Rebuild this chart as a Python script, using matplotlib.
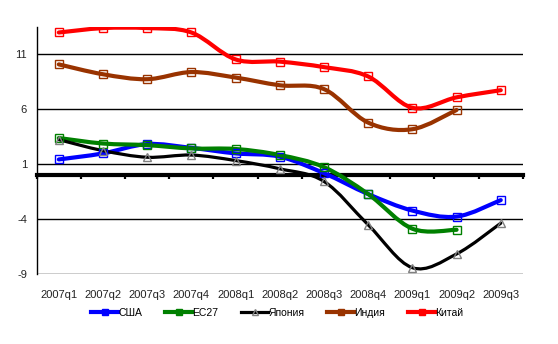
import numpy as np
import matplotlib
matplotlib.use("Agg")
import matplotlib.pyplot as plt
from matplotlib.path import Path
from matplotlib.patches import PathPatch
from matplotlib.lines import Line2D

categories = ["2007q1", "2007q2", "2007q3", "2007q4", "2008q1", "2008q2",
              "2008q3", "2008q4", "2009q1", "2009q2", "2009q3"]
usa = [1.45, 2.0, 2.85, 2.5, 2.0, 1.7, 0.2, -1.7, -3.2, -3.75, -2.25]
eu27 = [3.4, 2.9, 2.75, 2.45, 2.4, 1.85, 0.75, -1.7, -4.85, -4.95, None]
japan = [3.25, 2.25, 1.65, 1.85, 1.35, 0.6, -0.55, -4.5, -8.4, -7.15, -4.35]
india = [10.1, 9.2, 8.75, 9.4, 8.9, 8.2, 7.85, 4.8, 4.2, 5.95, None]
china = [13.0, 13.4, 13.4, 13.0, 10.55, 10.35, 9.85, 9.0, 6.15, 7.1, 7.75]
names = ["США", "ЕС27", "Япония", "Индия", "Китай"]
yticks = [-9, -4, 1, 6, 11]

plt.rcParams['font.family'] = ['Liberation Sans', 'DejaVu Sans']
fig = plt.figure(figsize=(5.58, 3.44), dpi=100)
ax = fig.add_axes([0.0658, 0.2026, 0.8712, 0.7189])
ax.set_xlim(-0.5, 10.5)
ax.set_ylim(-9, 13.5)

def smooth_path(xs, ys):
    pts = [(x, y) for x, y in zip(xs, ys) if y is not None]
    p = np.array(pts, dtype=float)
    n = len(p)
    verts = [tuple(p[0])]
    codes = [Path.MOVETO]
    for i in range(n - 1):
        p0 = p[i - 1] if i > 0 else p[i]
        p1 = p[i]
        p2 = p[i + 1]
        p3 = p[i + 2] if i + 2 < n else p[i + 1]
        c1 = p1 + (p2 - p0) / 6.0
        c2 = p2 - (p3 - p1) / 6.0
        verts += [tuple(c1), tuple(c2), tuple(p2)]
        codes += [Path.CURVE4] * 3
    return Path(verts, codes)

x = np.arange(len(categories))
series = [
    (usa, '#0000FF', 3.0, 's', '#0000FF'),
    (eu27, '#008000', 3.0, 's', '#008000'),
    (japan, '#000000', 2.3, '^', '#808080'),
    (india, '#993300', 3.0, 's', '#993300'),
    (china, '#FF0000', 3.0, 's', '#FF0000'),
]

for gy in [-4, 1, 6, 11]:
    ax.axhline(gy, color='black', lw=1.0, zorder=1)

handles = []
for (vals, col, lw, mk, mec), name in zip(series, names):
    path = smooth_path(x, vals)
    ax.add_patch(PathPatch(path, facecolor='none', edgecolor=col, lw=lw,
                           capstyle='round', joinstyle='round', zorder=3))
    xv = [xi for xi, v in zip(x, vals) if v is not None]
    yv = [v for v in vals if v is not None]
    ax.plot(xv, yv, linestyle='none', marker=mk, markersize=5.5 if mk == 's' else 6,
            markerfacecolor='none', markeredgecolor=mec, markeredgewidth=1.0, zorder=4)
    handles.append(Line2D([], [], color=col, lw=lw, marker=mk, markersize=5,
                          markerfacecolor=col if mk == 's' else 'none',
                          markeredgecolor=col if mk == 's' else mec,
                          label=name))

# axis styling
for s in ['top', 'right']:
    ax.spines[s].set_visible(False)
ax.spines['left'].set_linewidth(1.0)
ax.spines['bottom'].set_position(('data', 0))
ax.spines['bottom'].set_linewidth(3.0)
ax.spines['bottom'].set_zorder(2)
ax.axhline(-9, color='black', lw=1.0, zorder=1)

ax.set_xticks(np.arange(-0.5, 11, 1.0))
ax.set_xticklabels([])
ax.tick_params(axis='x', direction='out', length=3, width=1.6, color='black')
ax.set_yticks(yticks)
ax.set_yticklabels([str(v) for v in yticks])
ax.tick_params(axis='y', length=0, pad=7, labelsize=8, labelcolor='#222222')

sec = ax.secondary_xaxis(0)
sec.set_xticks(x)
sec.set_xticklabels(categories)
sec.tick_params(length=0, pad=11, labelsize=8, labelcolor='#222222')
sec.spines['bottom'].set_visible(False)

fig.legend(handles=handles, loc='center', bbox_to_anchor=(0.497, 0.09), ncol=5,
           frameon=False, fontsize=7.5, handlelength=2.6, handletextpad=0.0,
           columnspacing=2.2)

fig.savefig('out.png', dpi=100)
